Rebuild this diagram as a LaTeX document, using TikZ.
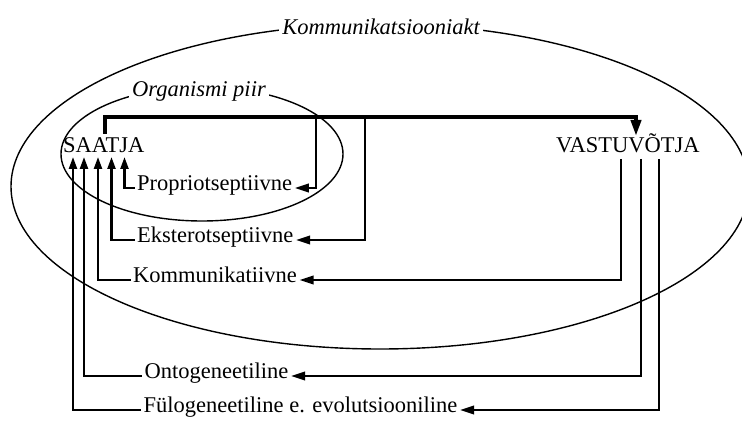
\documentclass[tikz,border=0pt]{standalone}
\usepackage{fontspec}
\setmainfont{Liberation Serif}
\usetikzlibrary{arrows.meta}
\begin{document}
\begin{tikzpicture}[x=1pt,y=-1pt,
  every node/.style={font=\fontsize{22.5}{27}\selectfont},
  boundary/.style={line width=1.4pt},
  boundlabel/.style={fill=white,inner xsep=3pt,inner ysep=1pt,font=\fontsize{22.5}{27}\selectfont\itshape},
  party/.style={anchor=base west,inner sep=0pt},
  channel/.style={anchor=west,inner sep=2.5pt,text height=1.3ex,text depth=0.2ex},
  conn/.style={line width=2.3pt},
  mainconn/.style={line width=3.8pt},
  tipup/.style={-{Triangle[length=12pt,width=8pt]}},
  tipleft/.style={-{Triangle[length=14pt,width=8.5pt]}},
  tipdown/.style={-{Triangle[length=16pt,width=10pt]}}
]
\useasboundingbox (0,0) rectangle (742,422);

% boundaries
\begin{scope}
  \clip (0,0) rectangle (742,422);
  \draw[boundary] (380,186.5) ellipse [x radius=369, y radius=162.5];
\end{scope}
\draw[boundary] (202,154) ellipse [x radius=141, y radius=67];
\node[boundlabel,anchor=base] (act) at (381,35) {Kommunikatsiooniakt};
\node[boundlabel,anchor=base] (body) at (199,97) {Organismi piir};

% sender and receiver
\node[party] (saatja) at (63,153) {SAATJA};
\node[party] (vastu) at (556,153) {VASTUVÕTJA};

% channels
\node[channel] (prop) at (134.5,188) {Propriotseptiivne};
\node[channel] (ekst) at (134.5,240) {Eksterotseptiivne};
\node[channel] (komm) at (130.5,280) {Kommunikatiivne};
\node[channel] (onto) at (142,376) {Ontogeneetiline};
\node[channel] (fulo) at (141,410) {Fülogeneetiline e. evolutsiooniline};

% connection points
\coordinate (out) at (105,134);
\coordinate (in0) at (636,136);
\coordinate (b1) at (316,117);
\coordinate (b2) at (365,117);
\coordinate (r1) at (621,159);
\coordinate (r2) at (641,159);
\coordinate (r3) at (659,159);
\coordinate (in1) at (124.5,157);
\coordinate (in2) at (111.5,157);
\coordinate (in3) at (98,157);
\coordinate (in4) at (84,157);
\coordinate (in5) at (73,157);

% message from sender to receiver
\draw[mainconn,tipdown] (out) -- ++(0,-17) -| (in0);

% feedback channels
\draw[conn,tipleft] (b1) |- (prop.east);
\draw[conn,tipleft] (b2) |- (ekst.east);
\draw[conn,tipleft] (r1) |- (komm.east);
\draw[conn,tipleft] (r2) |- (onto.east);
\draw[conn,tipleft] (r3) |- (fulo.east);

\draw[conn,tipup] (prop.west) -| (in1);
\draw[conn,tipup] (ekst.west) -| (in2);
\draw[conn,tipup] (komm.west) -| (in3);
\draw[conn,tipup] (onto.west) -| (in4);
\draw[conn,tipup] (fulo.west) -| (in5);
\end{tikzpicture}
\end{document}
